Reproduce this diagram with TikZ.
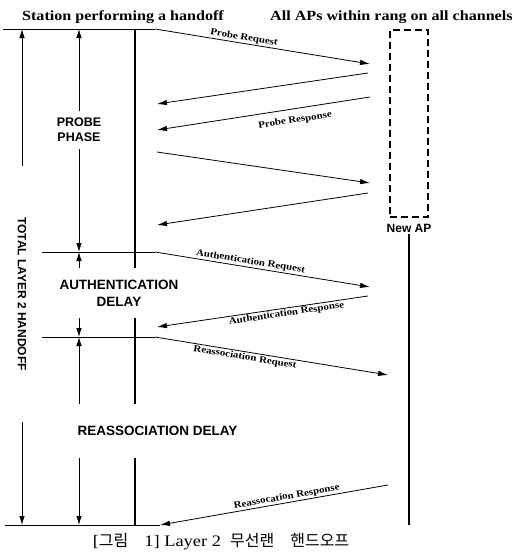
\documentclass[tikz,border=0pt]{standalone}
\usepackage{fontspec}
\setmainfont{Liberation Serif}
\setsansfont{Liberation Sans}
\newfontfamily\hdrfont{Liberation Serif}[FakeStretch=1.15]
\newfontfamily\krfont{Noto Sans CJK KR}
\usetikzlibrary{arrows.meta,positioning}

\begin{document}
\begin{tikzpicture}[x=1pt, y=-1pt,
    msg/.style={line width=0.8pt, -{Latex[length=10pt,width=5.5pt]}},
    tspan/.style={line width=0.8pt, -{Latex[length=9pt,width=5.5pt]}},
    life/.style={line width=2.4pt},
    tick/.style={line width=0.7pt},
    phase/.style={font=\sffamily\bfseries\fontsize{12.5}{15}\selectfont, align=center, inner xsep=1pt},
    lbl/.style={font=\hdrfont\bfseries\fontsize{9.5}{10}\selectfont, sloped, inner sep=1pt},
    hdr/.style={font=\hdrfont\bfseries\fontsize{14}{16}\selectfont, inner sep=0pt}]
  \useasboundingbox (0,0) rectangle (521,555);
  % headers
  \node[hdr, anchor=base] (sta) at (123,20) {Station performing a handoff};
  \node[hdr, anchor=base west] (all) at (270,20) {All APs within rang on all channels};
  % access points
  \node[draw, line width=2pt, dash pattern=on 7pt off 4pt, minimum width=38pt,
        minimum height=187pt, inner sep=0pt] (aps) at (409,123.5) {};
  \node[font=\sffamily\bfseries\fontsize{12}{14}\selectfont, inner sep=1pt,
        below=5pt of aps] (newap) {New AP};
  % phase labels
  \node[phase, inner ysep=7pt] (probe) at (79,130) {PROBE\\PHASE};
  \node[phase, inner ysep=12pt, font=\sffamily\bfseries\fontsize{13.5}{17}\selectfont]
        (auth) at (119,293) {AUTHENTICATION\\DELAY};
  \node[phase, inner ysep=22.5pt, font=\sffamily\bfseries\fontsize{13.5}{15}\selectfont]
        (reas) at (157.5,431) {REASSOCIATION DELAY};
  \node[phase, rotate=-90, inner xsep=51pt, inner ysep=1pt,
        font=\sffamily\bfseries\fontsize{12}{14}\selectfont] (total) at (22,294) {TOTAL LAYER 2 HANDOFF};
  % message end points
  \foreach \n/\x/\y in {s1/155/29, a1/370/64, a2/368/73, s2/157/104,
                        a3/370/97, s3/157/130, s4/157/152, a4/370/183,
                        a5/368/193, s5/157/225, s6/155/252, a6/370/287,
                        a7/368/296, s7/157/327, s8/155/337, a8/388/375,
                        a9/388/485, s9/160/525}
    \coordinate (\n) at (\x,\y);
  \coordinate (h1) at (3,29);
  \coordinate (h2) at (42,252);
  \coordinate (h3) at (42,337);
  \coordinate (h4) at (5,525);
  \coordinate (st) at (135,29);
  \coordinate (sb) at (135,525);
  % horizontal marks
  \draw[tick] (h1) -- (s1);
  \draw[tick] (h2) -- (s6);
  \draw[tick] (h3) -- (s8);
  \draw[tick] (h4) -- (s9);
  % station lifeline
  \draw[life] (st) -- (st |- auth.north);
  \draw[life] (st |- auth.south) -- (st |- reas.north);
  \draw[life] (st |- reas.south) -- (sb);
  % AP lifeline
  \draw[life] (newap) -- (newap |- s9);
  % time spans
  \draw[tspan] (total) -- (total |- h1);
  \draw[tspan] (total) -- (total |- h4);
  \draw[tspan] (probe) -- (probe |- h1);
  \draw[tspan] (probe) -- (probe |- h2);
  \draw[tspan] (auth.north -| probe) -- (probe |- h2);
  \draw[tspan] (auth.south -| probe) -- (probe |- h3);
  \draw[tspan] (reas.north -| probe) -- (probe |- h3);
  \draw[tspan] (reas.south -| probe) -- (probe |- h4);
  % messages
  \draw[msg] (s1) -- node[lbl, above, pos=0.41] {Probe Request} (a1);
  \draw[msg] (a2) -- (s2);
  \draw[msg] (a3) -- node[lbl, below=6pt, pos=0.36] {Probe Response} (s3);
  \draw[msg] (s4) -- (a4);
  \draw[msg] (a5) -- (s5);
  \draw[msg] (s6) -- node[lbl, above, pos=0.44] {Authentication Request} (a6);
  \draw[msg] (a7) -- node[lbl, below, pos=0.39] {Authentication Response} (s7);
  \draw[msg] (s8) -- node[lbl, below, pos=0.39] {Reassociation Request} (a8);
  \draw[msg] (a9) -- node[lbl, above, pos=0.44] {Reassocation Response} (s9);
  % caption
  \node[font=\hdrfont\fontsize{16}{18}\selectfont, anchor=base] (cap) at (221,546)
        {[{\krfont 그림}\quad 1] Layer 2 \ {\krfont 무선랜}\quad{\krfont 핸드오프}};
\end{tikzpicture}
\end{document}
